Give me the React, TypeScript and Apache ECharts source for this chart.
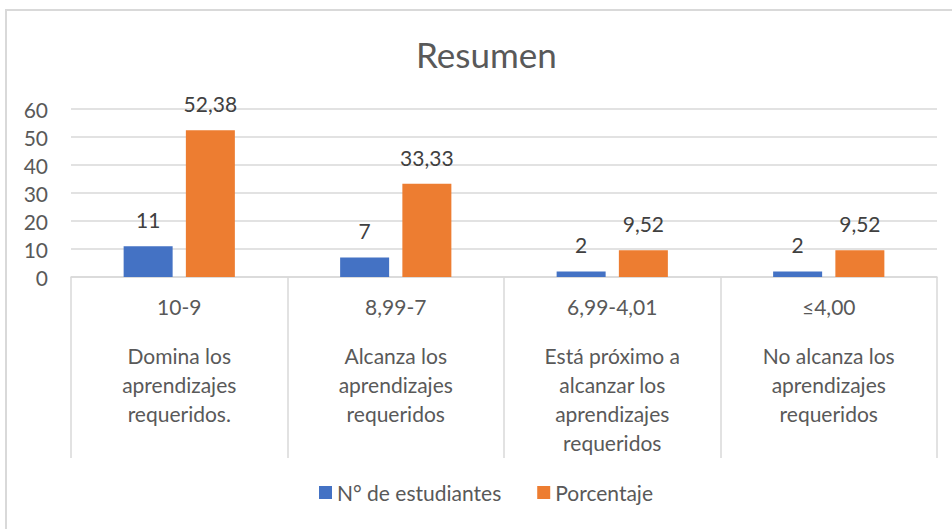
import React, { useEffect, useRef } from "react";
import * as echarts from "echarts";

const categories = ["10-9", "8,99-7", "6,99-4,01", "≤4,00"];
const descriptions = [
  "Domina los\naprendizajes\nrequeridos.",
  "Alcanza los\naprendizajes\nrequeridos",
  "Está próximo a\nalcanzar los\naprendizajes\nrequeridos",
  "No alcanza los\naprendizajes\nrequeridos",
];
const students = [11, 7, 2, 2];
const percentages = [52.38, 33.33, 9.52, 9.52];
const seriesNames = ["N° de estudiantes", "Porcentaje"];

const FONT = "Lato, 'Open Sans', sans-serif";
const TEXT = "#595959";
const GRID = "#D9D9D9";
const FS = 21;

export default function App() {
  const ref = useRef<HTMLDivElement>(null);
  useEffect(() => {
    if (!ref.current) return;
    const chart = echarts.init(ref.current, undefined, { renderer: "svg" });
    const fmt = (p: any) => String(p.value).replace(".", ",");
    chart.setOption({
      animation: false,
      textStyle: { fontFamily: FONT, color: TEXT },
      title: {
        text: "Resumen",
        left: 411,
        top: 31,
        textStyle: { fontFamily: FONT, fontSize: 35, fontWeight: "normal", color: TEXT },
      },
      graphic: [
        {
          type: "rect",
          shape: { x: 6, y: 10, width: 1000, height: 600 },
          style: { fill: "none", stroke: GRID, lineWidth: 2 },
          silent: true,
        },
      ],
      legend: {
        bottom: 21,
        left: 314,
        itemWidth: 13,
        itemHeight: 13,
        itemGap: 36,
        icon: "rect",
        textStyle: { fontFamily: FONT, fontSize: FS, color: TEXT },
        data: seriesNames,
      },
      grid: { left: 71, right: 15, top: 109, bottom: 252, containLabel: false },
      xAxis: [
        {
          type: "category",
          data: categories,
          position: "bottom",
          axisLine: { show: true, lineStyle: { color: GRID, width: 1.5 } },
          axisTick: { show: true, length: 181, interval: 0, lineStyle: { color: GRID, width: 1.5 } },
          axisLabel: { interval: 0, margin: 19, fontFamily: FONT, fontSize: FS, color: TEXT },
        },
        {
          type: "category",
          data: descriptions,
          position: "bottom",
          axisLine: { show: false },
          axisTick: { show: false },
          axisLabel: { interval: 0, margin: 64, fontFamily: FONT, fontSize: FS, lineHeight: 29, color: TEXT },
        },
      ],
      yAxis: {
        type: "value",
        min: 0,
        max: 60,
        interval: 10,
        axisLine: { show: false },
        axisTick: { show: false },
        axisLabel: { margin: 23, fontFamily: FONT, fontSize: FS, color: TEXT },
        splitLine: { lineStyle: { color: GRID, width: 1.5 } },
      },
      series: [
        {
          name: seriesNames[0],
          type: "bar",
          xAxisIndex: 0,
          data: students,
          barWidth: 49,
          barGap: "27%",
          itemStyle: { color: "#4472C4" },
          label: { show: true, position: "top", distance: 16, formatter: fmt, fontFamily: FONT, fontSize: FS, color: "#404040" },
        },
        {
          name: seriesNames[1],
          type: "bar",
          xAxisIndex: 0,
          data: percentages,
          barWidth: 49,
          barGap: "27%",
          itemStyle: { color: "#ED7D31" },
          label: { show: true, position: "top", distance: 16, formatter: fmt, fontFamily: FONT, fontSize: FS, color: "#404040" },
        },
      ],
    });
    return () => chart.dispose();
  }, []);
  return (
    <div
      ref={ref}
      style={{ position: "fixed", left: 0, top: 0, width: 952, height: 529, background: "#fff" }}
    />
  );
}
